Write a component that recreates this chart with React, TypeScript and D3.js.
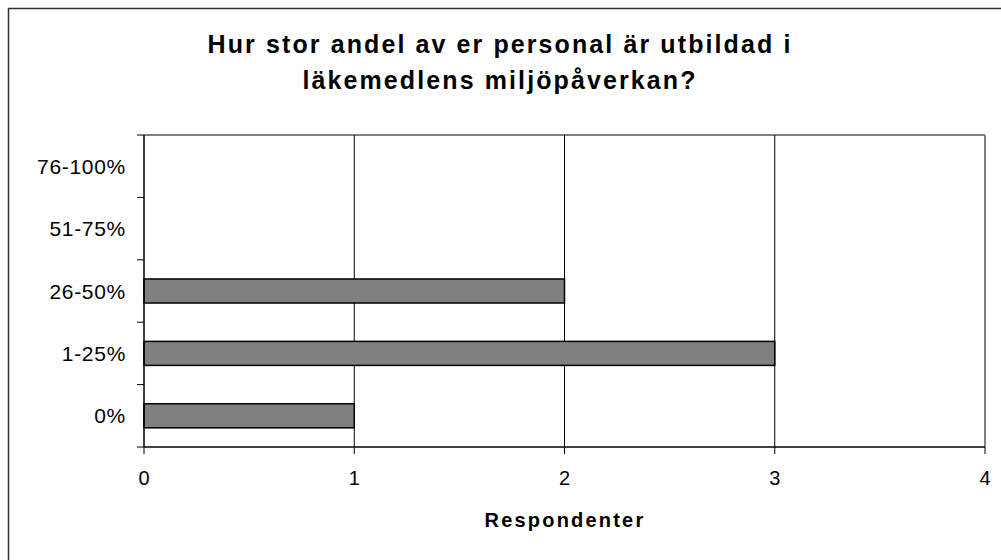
import React from "react";
import * as d3 from "d3";

const categories = ["0%", "1-25%", "26-50%", "51-75%", "76-100%"];
const values = [1, 3, 2, 0, 0];
const xTicks = [0, 1, 2, 3, 4];
const titleLines = ["Hur stor andel av er personal är utbildad i", "läkemedlens miljöpåverkan?"];
const xAxisTitle = "Respondenter";

const W = 1001;
const H = 560;
const plot = { left: 144, right: 985, top: 135, bottom: 447 };

export default function App() {
  const x = d3.scaleLinear().domain([0, 4]).range([plot.left, plot.right]);
  const yOrder = [...categories].reverse();
  const y = d3.scaleBand().domain(yOrder).range([plot.top, plot.bottom]);
  const barH = y.bandwidth() * 0.385;
  const font = "Liberation Sans, Arial, sans-serif";

  return (
    <svg width={W} height={H} style={{ position: "absolute", left: 0, top: 0 }} fontFamily={font}>
      <rect x={0} y={0} width={W} height={H} fill="#fff" />
      {/* outer border (top and left visible) */}
      <line x1={8} y1={8.5} x2={W} y2={8.5} stroke="#333" strokeWidth={1.5} />
      <line x1={8.5} y1={8} x2={8.5} y2={H} stroke="#333" strokeWidth={1.5} />

      {/* title */}
      {titleLines.map((t, i) => (
        <text key={i} x={500} y={53 + i * 36} textAnchor="middle" fontSize={25} fontWeight="bold" letterSpacing={2.1} fill="#000">
          {t}
        </text>
      ))}

      {/* plot border top/right in gray */}
      <line x1={plot.left} y1={plot.top} x2={plot.right} y2={plot.top} stroke="#808080" strokeWidth={2} />
      <line x1={plot.right} y1={plot.top} x2={plot.right} y2={plot.bottom} stroke="#808080" strokeWidth={2} />

      {/* gridlines */}
      {xTicks.filter((t) => t > 0 && t < 4).map((t) => (
        <line key={t} x1={x(t)} y1={plot.top} x2={x(t)} y2={plot.bottom} stroke="#000" strokeWidth={1} />
      ))}

      {/* bars */}
      {categories.map((c, i) =>
        values[i] > 0 ? (
          <rect
            key={c}
            x={x(0)}
            y={(y(c) as number) + (y.bandwidth() - barH) / 2}
            width={x(values[i]) - x(0)}
            height={barH}
            fill="#808080"
            stroke="#000"
            strokeWidth={1.5}
          />
        ) : null
      )}

      {/* axes */}
      <line x1={plot.left} y1={plot.top} x2={plot.left} y2={plot.bottom} stroke="#000" strokeWidth={1.5} />
      <line x1={plot.left} y1={plot.bottom} x2={plot.right} y2={plot.bottom} stroke="#000" strokeWidth={1.5} />

      {/* y ticks */}
      {[...y.domain().map((d) => y(d) as number), plot.bottom].map((v, i) => (
        <line key={i} x1={plot.left - 7} y1={v} x2={plot.left} y2={v} stroke="#000" strokeWidth={1} />
      ))}
      {categories.map((c) => (
        <text key={c} x={126} y={(y(c) as number) + y.bandwidth() / 2 + 7.5} textAnchor="end" fontSize={21} letterSpacing={0.7} fill="#000">
          {c}
        </text>
      ))}

      {/* x ticks */}
      {xTicks.map((t) => (
        <g key={t}>
          <line x1={x(t)} y1={plot.bottom} x2={x(t)} y2={plot.bottom + 7} stroke="#000" strokeWidth={1} />
          <text x={x(t)} y={485} textAnchor="middle" fontSize={20} fill="#000">
            {t}
          </text>
        </g>
      ))}

      <text x={565} y={527} textAnchor="middle" fontSize={20} fontWeight="bold" letterSpacing={2.2} fill="#000">
        {xAxisTitle}
      </text>
    </svg>
  );
}
